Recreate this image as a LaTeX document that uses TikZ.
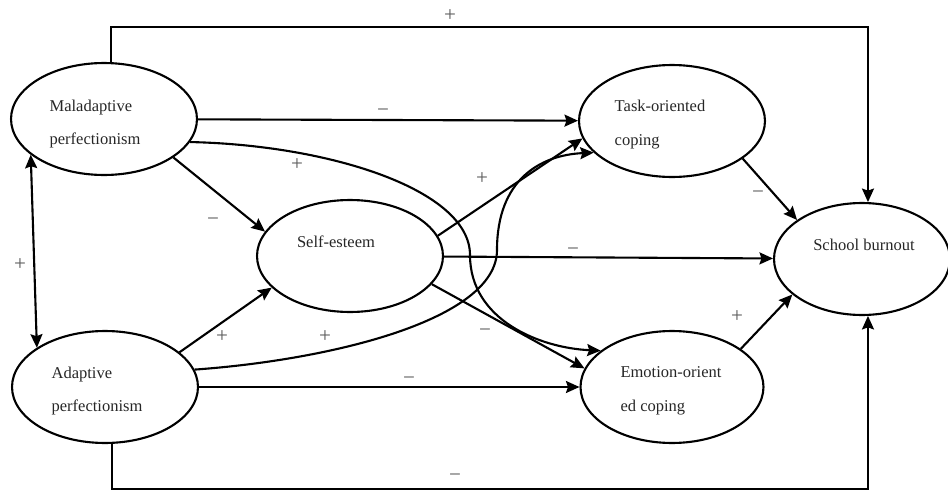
\documentclass[tikz,border=0pt]{standalone}
\usepackage{fontspec}
\setmainfont{Liberation Serif}
\usetikzlibrary{arrows.meta,calc,shapes.geometric}
\tikzset{
  var/.style={draw,ellipse,line width=1.2pt,minimum width=3.72cm,
    minimum height=2.24cm,inner sep=0pt},
  vartext/.style={font=\fontsize{9.4}{19.3}\selectfont,align=left,
    text=black!85,inner sep=0pt},
  link/.style={-{Stealth[length=2.7mm,width=2.4mm,inset=0.4mm]},line width=1.2pt},
  bilink/.style={{Stealth[length=2.7mm,width=2.4mm,inset=0.4mm]}-{Stealth[length=2.7mm,width=2.4mm,inset=0.4mm]},
    line width=1.2pt},
  sign/.style={font=\fontsize{12}{12}\selectfont,text=black!65,inner sep=0pt}
}

\begin{document}
\begin{tikzpicture}[x=0.02cm,y=-0.02cm]
  \useasboundingbox (0,0) rectangle (948,494);
  \node[var] (mal) at (104,119) {};
  \node[var] (ada) at (105,387) {};
  \node[var] (self) at (350,256) {};
  \node[var] (task) at (672,121) {};
  \node[var,minimum width=3.66cm] (emo) at (672,387) {};
  \node[var,minimum width=3.52cm] (burn) at (862,259) {};
  \node[vartext] (malT) at ($(mal)+(-9,5)$) {Maladaptive\\perfectionism};
  \node[vartext] (adaT) at ($(ada)+(-8,4)$) {Adaptive\\perfectionism};
  \node[vartext] (selfT) at ($(self)+(-14,-14)$) {Self-esteem};
  \node[vartext] (taskT) at ($(task)+(-12,4)$) {Task-oriented\\coping};
  \node[vartext] (emoT) at ($(emo)+(-1,4)$) {Emotion-orient\\ed coping};
  \node[vartext] (burnT) at ($(burn)+(2,-14)$) {School burnout};

  \coordinate (topbar) at (450,27);
  \coordinate (botbar) at (455,489);
  \draw[link] (mal.83) |- (topbar) -| (burn.84);
  \draw[link] (ada.-83) |- (botbar) -| (burn.-84);
  \draw[bilink] (mal.-154) -- (ada.150);
  \draw[link] (mal) -- (task);
  \draw[link] (mal.-15) .. controls (330,145) and (470,190) .. (470,255)
    .. controls (470,320) and (540,348) .. (emo.153);
  \draw[link] (mal.-29) -- (self.164);
  \draw[link] (ada.25) -- (self.-158);
  \draw[link] (ada.11) .. controls (330,360) and (497,320) .. (497,250)
    .. controls (497,180) and (540,155) .. (task.-158);
  \draw[link] (ada) -- (emo);
  \draw[link] (self.13) -- (task.-169);
  \draw[link] (self) -- (burn);
  \draw[link] (self.-19) -- (emo.168);
  \draw[link] (task.-28) -- (burn.149);
  \draw[link] (emo.29) -- (burn.-153);

  \node[sign] (sTop) at (450,16) {+};
  \node[sign] (sBot) at (455,478) {−};
  \node[sign] (sBi) at (20,265) {+};
  \node[sign] (sMalTask) at (383,113) {−};
  \node[sign] (sMalEmo) at (297,165) {+};
  \node[sign] (sMalSelf) at (213,222) {−};
  \node[sign] (sAdaSelf) at (222,337) {+};
  \node[sign] (sAdaTask) at (325,337) {+};
  \node[sign] (sAdaEmo) at (409,381) {−};
  \node[sign] (sSelfTask) at (482,179) {+};
  \node[sign] (sSelfBurn) at (573,252) {−};
  \node[sign] (sSelfEmo) at (485,333) {−};
  \node[sign] (sTaskBurn) at (758,195) {−};
  \node[sign] (sEmoBurn) at (737,317) {+};
\end{tikzpicture}
\end{document}
